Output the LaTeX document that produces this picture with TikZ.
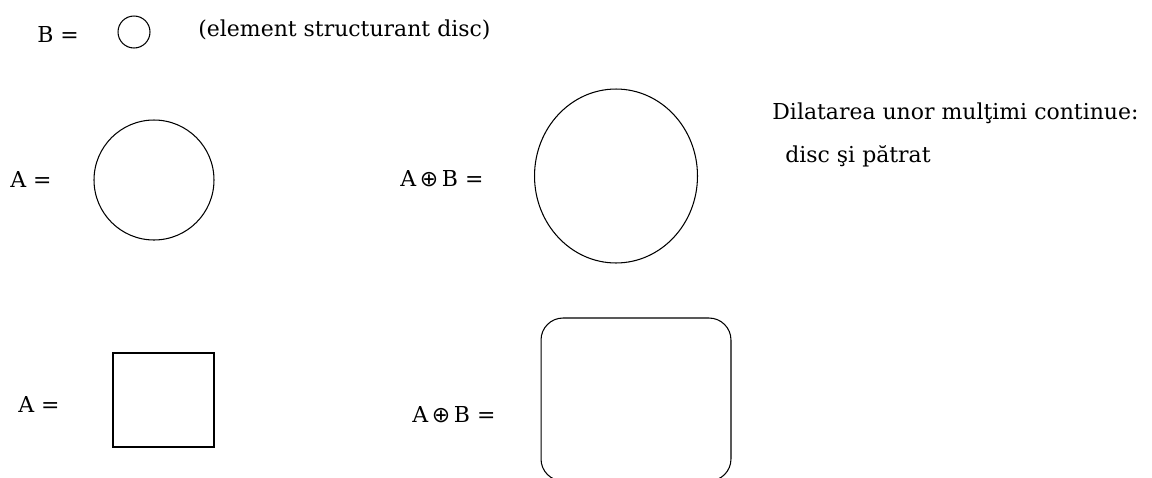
\documentclass[tikz,border=0pt]{standalone}
\usepackage{fontspec}
\setmainfont{DejaVu Serif}
\newfontfamily\opfont{DejaVu Sans}
\usetikzlibrary{shapes.geometric}

\newcommand{\dil}{\,{\opfont ⊕}\,}

\begin{document}
\begin{tikzpicture}[
  x=0.02cm, y=-0.02cm,
  lbl/.style={anchor=base west, inner sep=0pt, font=\fontsize{12.5}{15}\selectfont},
  disc/.style={draw=black, circle, line width=0.6pt, inner sep=0pt, outer sep=0pt},
  blob/.style={draw=black, ellipse, line width=0.6pt, inner sep=0pt, outer sep=0pt},
  sq/.style={draw=black, rectangle, line width=0.6pt, inner sep=0pt, outer sep=0pt},
]
\clip (0,0) rectangle (1152,477);
\fill[white] (0,0) rectangle (1152,477);

%── Element structurant ───────────────────────────────────────────────────────

\node[lbl] (bEq) at (37,42) {B =};
\node[disc, minimum size=0.64cm] (bDisc) at (134,32) {};
\node[lbl] (bNote) at (198,36) {(element structurant disc)};

%── Disc ──────────────────────────────────────────────────────────────────────

\node[lbl] (aEq1) at (10,187) {A =};
\node[disc, minimum size=2.4cm] (aDisc) at (154,180) {};
\node[lbl] (abEq1) at (400,186) {A\dil B =};
\node[blob, minimum width=3.26cm, minimum height=3.48cm] (abDisc) at (616,176) {};

\node[lbl] (title) at (772,119) {Dilatarea unor mulţimi continue:};
\node[lbl] (sub) at (785,162) {disc şi pătrat};

%── Patrat ────────────────────────────────────────────────────────────────────

\node[lbl] (aEq2) at (18,412) {A =};
\node[sq, minimum width=2.02cm, minimum height=1.88cm] (aSq) at (163.5,400) {};
\node[lbl] (abEq2) at (412,422) {A\dil B =};
\node[sq, rounded corners=0.44cm, minimum width=3.8cm, minimum height=3.26cm]
  (abSq) at (636,399.5) {};

\end{tikzpicture}
\end{document}
